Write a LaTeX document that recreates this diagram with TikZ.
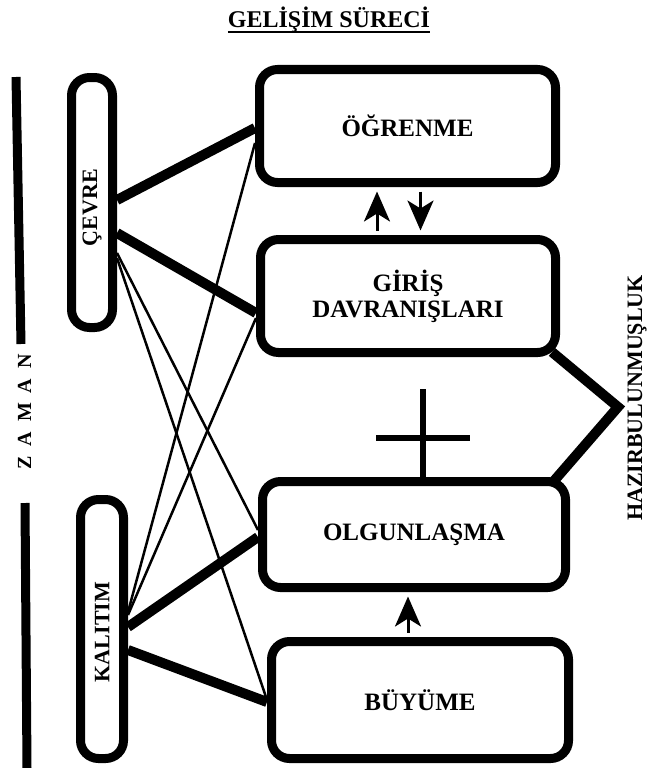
\documentclass[tikz,border=0pt]{standalone}
\usepackage{fontspec}
\setmainfont{Liberation Serif}
\usetikzlibrary{arrows.meta,calc}
\begin{document}
\begin{tikzpicture}[x=1pt,y=-1pt,
  box/.style={draw, line width=9pt, rounded corners=18pt, inner sep=0pt, align=center,
              font=\fontsize{25}{26}\selectfont\bfseries},
  sidebox/.style={draw, line width=9pt, rounded corners=18pt, inner sep=0pt},
  sidelbl/.style={rotate=90, inner sep=0pt, font=\fontsize{22}{24}\selectfont\bfseries},
  thickline/.style={line width=10pt},
  thinline/.style={line width=2.5pt},
  timeline/.style={line width=9pt},
  arr/.style={line width=3pt, shorten >=4.5pt, shorten <=4.5pt,
              -{Stealth[length=30pt,width=26pt,inset=8pt]}},
  crossline/.style={line width=6pt}]
\useasboundingbox (0,0) rectangle (659,768);

% title
\node[inner sep=0pt, font=\fontsize{24}{26}\selectfont\bfseries] (title) at (329,20) {GELİŞİM SÜRECİ};
\draw[line width=2pt] ([yshift=-4pt]title.base west) -- ([yshift=-4pt]title.base east);

% time axis
\coordinate (t1) at (16,77);
\coordinate (t2) at (21,344);
\coordinate (t3) at (25,503);
\coordinate (t4) at (27,768);
\draw[timeline] (t1) -- (t2);
\draw[timeline] (t3) -- (t4);
\node[rotate=90, inner sep=0pt, font=\fontsize{20}{22}\selectfont\bfseries] (zaman) at (24.5,412) {Z\,\,\,A\,\,\,M\,\,\,A\,\,\,N};

% side boxes
\node[sidebox, minimum width=41pt, minimum height=250pt] (cevre) at (92,202.5) {};
\node[sidelbl] (cevrelbl) at ([yshift=-5pt]cevre.center) {ÇEVRE};
\node[sidebox, minimum width=43pt, minimum height=259pt] (kalitim) at (102,629) {};
\node[sidelbl] (kalitimlbl) at ([yshift=-3pt]kalitim.center) {KALITIM};

% main boxes
\node[box, minimum width=296pt, minimum height=113pt] (ogr) at (407.5,126) {ÖĞRENME};
\node[box, minimum width=295pt, minimum height=113pt] (giris) at (408,296) {GİRİŞ\\DAVRANIŞLARI};
\node[box, minimum width=303pt, minimum height=106pt] (olg) at (414,534.5) {OLGUNLAŞMA};
\node[box, minimum width=297pt, minimum height=117pt] (buy) at (420,700) {BÜYÜME};

% thick connectors
\draw[thickline] ([yshift=2.5pt]cevre.east) -- ([yshift=-2pt]ogr.west);
\draw[thickline] ([yshift=-30.5pt]cevre.east) -- ([yshift=-17pt]giris.west);
\draw[thickline] ([yshift=2pt]kalitim.east) -- ([yshift=-2.5pt]olg.west);
\draw[thickline] ([yshift=-21pt]kalitim.east) -- ([yshift=-2pt]buy.west);

% thin connectors
\draw[thinline] ([yshift=-50.5pt]cevre.east) -- ([yshift=4.5pt]olg.west);
\draw[thinline] ([yshift=-55.5pt]cevre.east) -- ([yshift=0pt]buy.west);
\draw[thinline] ([yshift=17pt]kalitim.east) -- ([yshift=-17pt]ogr.west);
\draw[thinline] ([yshift=14pt]kalitim.east) -- ([yshift=-22pt]giris.west);

% arrows between boxes
\draw[arr] ([xshift=-31pt]giris.north) -- ([xshift=-31pt]giris.north |- ogr.south);
\draw[arr] ([xshift=13pt]ogr.south) -- ([xshift=13pt]ogr.south |- giris.north);
\draw[arr] ([xshift=-12pt]buy.north) -- ([xshift=-12pt]buy.north |- olg.south);

% plus sign
\draw[crossline] ([xshift=9pt]olg.north) -- ++(0,-88);
\coordinate (crossc) at (423,438);
\draw[crossline] (crossc) ++(-47,0) -- ++(94,0);

% readiness bracket
\coordinate (tip) at (618,407);
\draw[thickline, line join=miter] ([xshift=-8pt,yshift=5pt]giris.south east) -- (tip) -- ([xshift=-17pt,yshift=-5pt]olg.north east);
\node[rotate=90, inner sep=0pt, font=\fontsize{22}{24}\selectfont\bfseries] (hazir) at (637,398) {HAZIRBULUNMUŞLUK};
\end{tikzpicture}
\end{document}
